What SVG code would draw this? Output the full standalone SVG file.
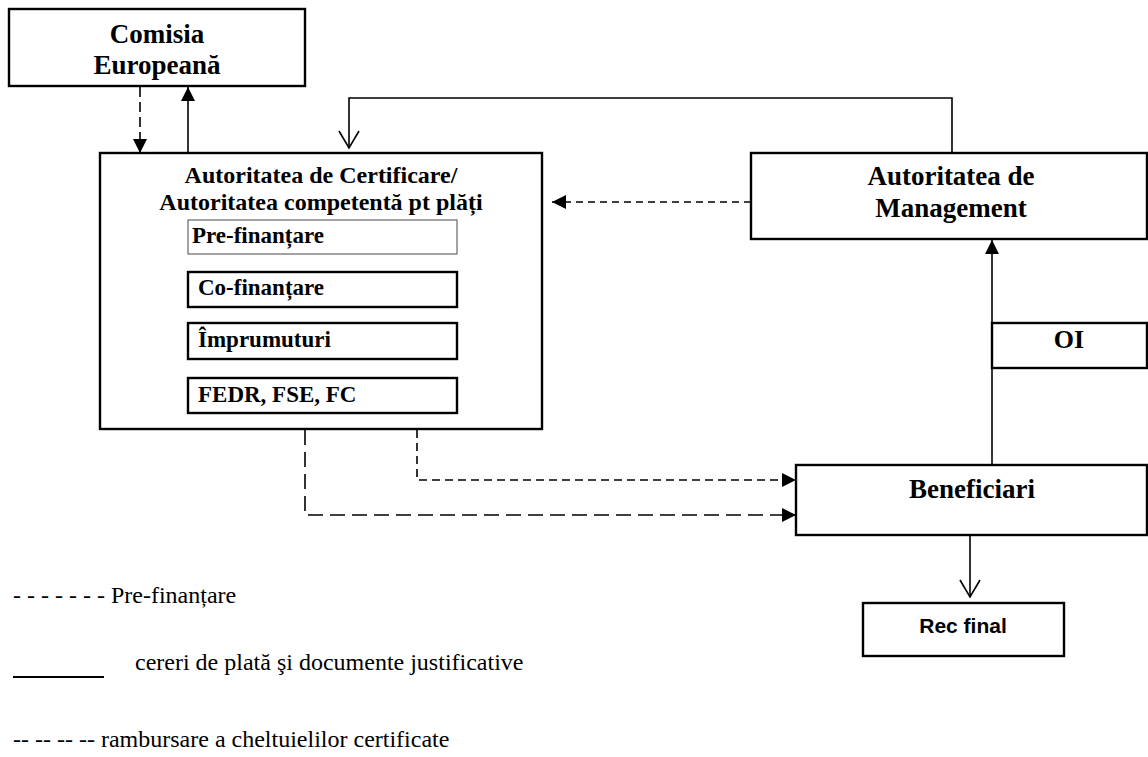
<svg xmlns="http://www.w3.org/2000/svg" width="1148" height="757" viewBox="0 0 1148 757">
<style>
.box{fill:#fff;stroke:#000;stroke-width:2.4}
.thin{fill:#fff;stroke:#666;stroke-width:1.2}
.t{font-family:"Liberation Serif","Times New Roman",serif;font-weight:bold;fill:#000}
.c{text-anchor:middle}
.lg{font-family:"Liberation Serif","Times New Roman",serif;font-size:24px;fill:#000}
.sans{font-family:"Liberation Sans",Arial,sans-serif;font-weight:bold;fill:#000}
.ln{fill:none;stroke:#000;stroke-width:1.6}
</style>
<defs>
<marker id="fa" markerUnits="userSpaceOnUse" markerWidth="16" markerHeight="16" refX="14" refY="7" orient="auto">
<path d="M0,0 L14,7 L0,14 z" fill="#000"/>
</marker>
<marker id="va" markerUnits="userSpaceOnUse" markerWidth="22" markerHeight="24" refX="18" refY="11" orient="auto">
<path d="M1,1 L18,11 L1,21" fill="none" stroke="#000" stroke-width="1.6"/>
</marker>
</defs>

<g id="connectors">
<line class="ln" x1="140" y1="87" x2="140" y2="153" stroke-dasharray="10 5" marker-end="url(#fa)"/>
<line class="ln" x1="188" y1="153" x2="188" y2="87" marker-end="url(#fa)"/>
<polyline class="ln" points="952,153 952,98 349,98 349,148" marker-end="url(#va)"/>
<line class="ln" x1="751" y1="202" x2="552" y2="202" stroke-dasharray="7 5" marker-end="url(#fa)"/>
<polyline class="ln" points="417,430 417,480 796,480" stroke-dasharray="8 5" marker-end="url(#fa)"/>
<polyline class="ln" points="305,430 305,515 796,515" stroke-dasharray="15 7" marker-end="url(#fa)"/>
<line class="ln" x1="992" y1="465" x2="992" y2="240" marker-end="url(#fa)"/>
<line class="ln" x1="970" y1="535" x2="970" y2="597" marker-end="url(#va)"/>
</g>

<g id="comisia">
<rect class="box" x="9" y="9" width="296" height="77"/>
<text class="t c" x="157" y="43" font-size="27">Comisia</text>
<text class="t c" x="157" y="74" font-size="27">Europeană</text>
</g>

<g id="autoritatea-certificare">
<rect class="box" x="100" y="153" width="442" height="276"/>
<text class="t c" x="321" y="183" font-size="24">Autoritatea de Certificare/</text>
<text class="t c" x="321" y="210" font-size="24">Autoritatea competentă pt plăți</text>
</g>

<g id="pre-finantare">
<rect class="thin" x="188" y="220" width="269" height="34"/>
<text class="t" x="192" y="243" font-size="23">Pre-finanțare</text>
</g>
<g id="co-finantare">
<rect class="box" x="188" y="272" width="269" height="35"/>
<text class="t" x="198" y="295" font-size="23">Co-finanțare</text>
</g>
<g id="imprumuturi">
<rect class="box" x="188" y="323" width="269" height="36"/>
<text class="t" x="198" y="347" font-size="23">Împrumuturi</text>
</g>
<g id="fedr">
<rect class="box" x="188" y="378" width="269" height="35"/>
<text class="t" x="198" y="402" font-size="23">FEDR, FSE, FC</text>
</g>

<g id="autoritatea-management">
<rect class="box" x="751" y="153" width="396" height="86"/>
<text class="t c" x="951" y="185" font-size="27">Autoritatea de</text>
<text class="t c" x="951" y="217" font-size="27">Management</text>
</g>

<g id="oi">
<rect class="box" x="992" y="323" width="155" height="45"/>
<text class="t c" x="1069" y="348" font-size="26">OI</text>
</g>

<g id="beneficiari">
<rect class="box" x="796" y="465" width="351" height="70"/>
<text class="t c" x="972" y="498" font-size="27">Beneficiari</text>
</g>

<g id="rec-final">
<rect class="box" x="863" y="603" width="201" height="53"/>
<text class="sans c" x="963" y="633" font-size="21">Rec final</text>
</g>

<g id="legend">
<text class="lg" x="13" y="603">- - - - - - - Pre-finanțare</text>
<line x1="13" y1="677" x2="104" y2="677" stroke="#000" stroke-width="2"/>
<text class="lg" x="135" y="670">cereri de plată şi documente justificative</text>
<text class="lg" x="13" y="747">-- -- -- -- rambursare a cheltuielilor certificate</text>
</g>
</svg>
